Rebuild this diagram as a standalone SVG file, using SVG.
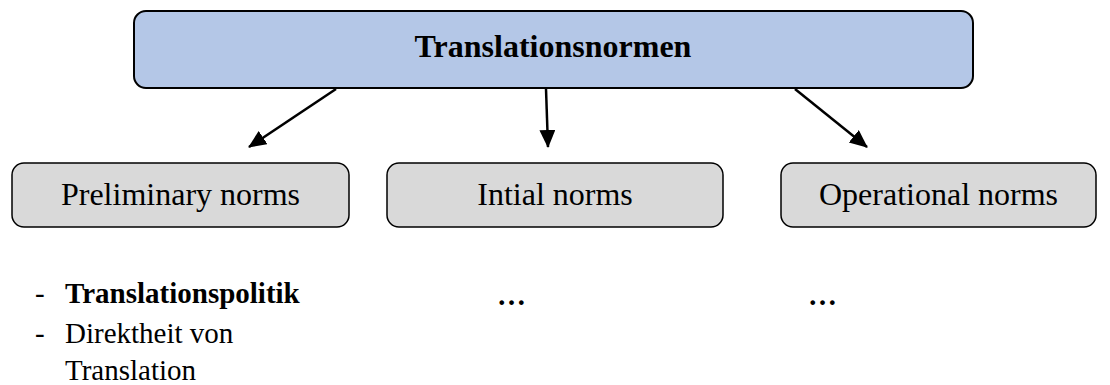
<svg xmlns="http://www.w3.org/2000/svg" width="1110" height="385" viewBox="0 0 1110 385">
  <style>
    .top { fill: #B4C7E7; stroke: #000; stroke-width: 2; }
    .child { fill: #D9D9D9; stroke: #000; stroke-width: 1.5; }
    .t { font-family: "Liberation Serif", "Times New Roman", serif; fill: #000; }
    .title { font-size: 32px; font-weight: bold; text-anchor: middle; }
    .lbl { font-size: 32px; text-anchor: middle; }
    .list { font-size: 29px; }
    .conn { stroke: #000; stroke-width: 2.5; fill: none; marker-end: url(#arr); }
  </style>
  <defs>
    <marker id="arr" markerUnits="userSpaceOnUse" markerWidth="20" markerHeight="18" refX="17" refY="8" orient="auto" viewBox="0 0 20 18">
      <path d="M0,0 L18,8 L0,16 z" fill="#000"/>
    </marker>
  </defs>
  <rect width="1110" height="385" fill="#fff"/>
  <g id="connectors">
    <path class="conn" d="M336,89 L249,147"/>
    <path class="conn" d="M546,89 L548,147"/>
    <path class="conn" d="M795,89 L867,147"/>
  </g>
  <g id="node-translationsnormen">
    <rect class="top" x="134" y="11" width="839" height="77" rx="12" ry="12"/>
    <text class="t title" x="553" y="57">Translationsnormen</text>
  </g>
  <g id="node-preliminary">
    <rect class="child" x="12" y="163" width="337" height="64" rx="12" ry="12"/>
    <text class="t lbl" x="180.5" y="205">Preliminary norms</text>
  </g>
  <g id="node-initial">
    <rect class="child" x="387" y="163" width="336" height="64" rx="12" ry="12"/>
    <text class="t lbl" x="555" y="205">Intial norms</text>
  </g>
  <g id="node-operational">
    <rect class="child" x="781" y="163" width="315" height="64" rx="12" ry="12"/>
    <text class="t lbl" x="938.5" y="205">Operational norms</text>
  </g>
  <g id="preliminary-details">
    <text class="t list" x="35" y="303">-</text>
    <text class="t list" x="65" y="303" font-weight="bold">Translationspolitik</text>
    <text class="t list" x="35" y="343">-</text>
    <text class="t list" x="65" y="343">Direktheit von</text>
    <text class="t list" x="65" y="380">Translation</text>
  </g>
  <g id="initial-details">
    <text class="t list" x="497" y="305" font-weight="bold">…</text>
  </g>
  <g id="operational-details">
    <text class="t list" x="808" y="305" font-weight="bold">…</text>
  </g>
</svg>
